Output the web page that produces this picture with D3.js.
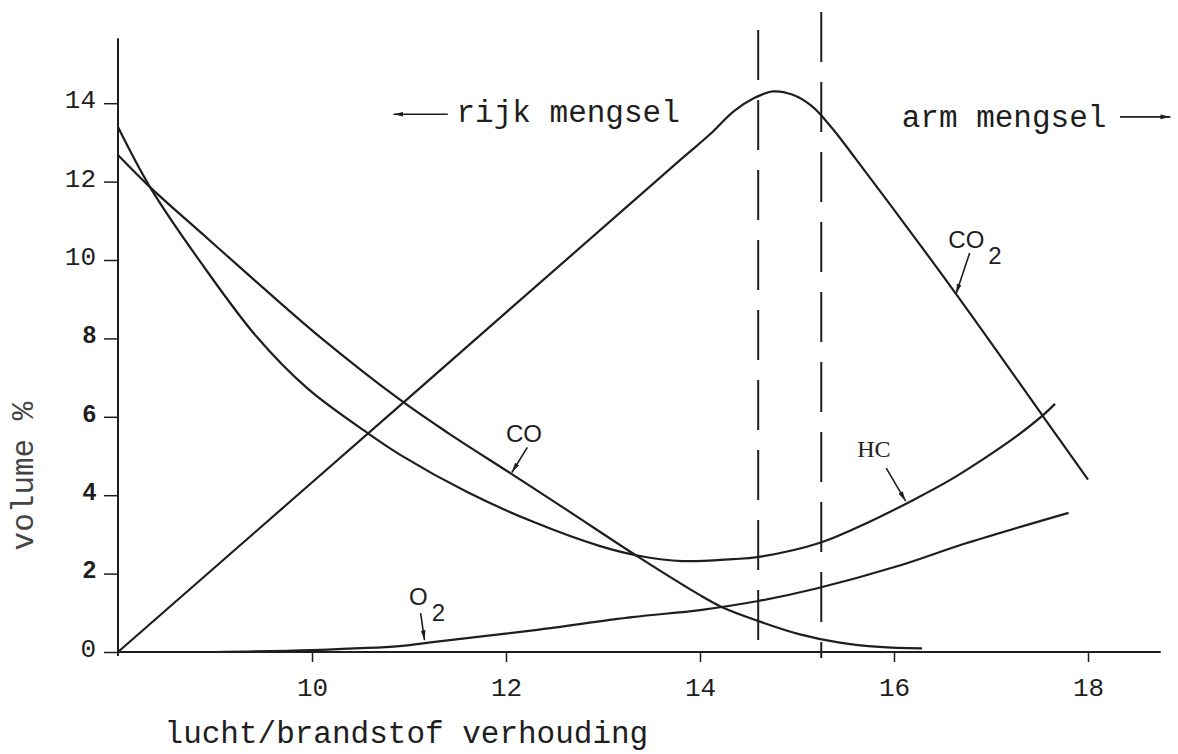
<!DOCTYPE html>
<html lang="nl">
<meta charset="utf-8">
<title>Uitlaatgassen en lucht/brandstof verhouding</title>
<style>
  body { margin: 0; background: #fff; }
  svg { display: block; }
</style>
<body>
<div id="chart"></div>
<script src="https://cdn.jsdelivr.net/npm/d3@7"></script>
<script>
// values (x = lucht/brandstof, y = volume %)
var co2Pts = [[8, 0], [11, 6.49], [13.8, 12.56], [14.1, 13.2], [14.35, 13.8], [14.55, 14.12],
  [14.75, 14.3], [14.95, 14.22], [15.15, 13.93], [15.35, 13.4], [15.6, 12.6], [16.65, 9.1],
  [17.54, 6.0], [18.0, 4.4]];
var coPts = [[8, 12.68], [8.33, 11.86], [8.85, 10.71], [9.36, 9.59], [10.08, 8.04], [10.91, 6.43],
  [11.42, 5.56], [12.04, 4.57], [12.63, 3.62], [13.38, 2.4], [14.0, 1.45], [14.24, 1.13],
  [14.59, 0.8], [15.03, 0.45], [15.44, 0.24], [15.85, 0.13], [16.29, 0.09]];
var hcPts = [[8, 13.39], [8.33, 11.86], [8.85, 9.95], [9.43, 8.04], [9.95, 6.73], [10.57, 5.59],
  [10.91, 5.03], [11.6, 4.08], [12.28, 3.32], [12.97, 2.7], [13.38, 2.45], [13.82, 2.32],
  [14.34, 2.37], [14.59, 2.42], [15.23, 2.78], [15.72, 3.29], [16.2, 3.88], [16.58, 4.39],
  [16.92, 4.92], [17.25, 5.48], [17.54, 6.05], [17.66, 6.33]];
var o2Pts = [[9.0, 0], [10.0, 0.05], [10.9, 0.15], [11.2, 0.24], [12.3, 0.56], [13.3, 0.89],
  [14.0, 1.07], [14.6, 1.3], [15.2, 1.62], [16.05, 2.2], [16.75, 2.78], [17.8, 3.55]];
var stoichLines = [14.6, 15.25];
var xTicks = [10, 12, 14, 16, 18];
var yTicks = [0, 2, 4, 6, 8, 10, 12, 14];

var W = 1178, H = 754;
var mono = "'Liberation Mono', 'Courier New', monospace";
var sans = "'Liberation Sans', Arial, sans-serif";
var serif = "'Liberation Serif', 'Times New Roman', serif";
var ink = "#1e1e1e";

var svg = d3.select("#chart").append("svg").attr("width", W).attr("height", H);
svg.append("rect").attr("width", W).attr("height", H).attr("fill", "#fff");

var x = d3.scaleLinear().domain([8, 18]).range([118, 1088]);
var y = d3.scaleLinear().domain([0, 14]).range([652, 103.2]);

// arrowhead for the little pointers
var defs = svg.append("defs");
defs.append("marker").attr("id", "tip")
  .attr("viewBox", "0 0 10 6").attr("refX", 10).attr("refY", 3)
  .attr("markerWidth", 10).attr("markerHeight", 6).attr("markerUnits", "userSpaceOnUse")
  .attr("orient", "auto")
  .append("path").attr("d", "M0,0.6L10,3L0,5.4Z").attr("fill", ink);

// axis lines (longer than the domain, like the original)
svg.append("line").attr("x1", x(8)).attr("x2", x(8)).attr("y1", y(14) - 65).attr("y2", y(0) + 4)
  .attr("stroke", ink).attr("stroke-width", 2);
svg.append("line").attr("x1", x(8)).attr("x2", x(18.75)).attr("y1", y(0)).attr("y2", y(0))
  .attr("stroke", ink).attr("stroke-width", 2.2);

var yAxis = svg.append("g").attr("transform", "translate(" + x(8) + ",0)")
  .call(d3.axisLeft(y).tickValues(yTicks).tickSize(14).tickPadding(8).tickSizeOuter(0));
yAxis.select(".domain").remove();
yAxis.selectAll("line").attr("stroke", ink).attr("stroke-width", 1.5);
yAxis.selectAll("text")
  .attr("fill", ink).attr("dy", "0.18em")
  .style("font-family", function (d) { return (d >= 10 || d === 0) ? mono : sans; })
  .style("font-weight", function (d) { return (d >= 10 || d === 0) ? "normal" : "bold"; })
  .style("font-size", function (d) { return (d >= 10 || d === 0) ? "26px" : "24px"; });

var xAxis = svg.append("g").attr("transform", "translate(0," + y(0) + ")")
  .call(d3.axisBottom(x).tickValues(xTicks).tickSize(10).tickPadding(16).tickSizeOuter(0));
xAxis.select(".domain").remove();
xAxis.selectAll("line").attr("stroke", ink).attr("stroke-width", 1.5);
xAxis.selectAll("text").attr("fill", ink)
  .style("font-family", mono).style("font-size", "26px");

// stoichiometric band (dashed verticals)
svg.selectAll(".stoich").data(stoichLines).enter().append("line")
  .attr("x1", function (d) { return x(d); }).attr("x2", function (d) { return x(d); })
  .attr("y1", function (d, i) { return i === 0 ? 30 : 12; }).attr("y2", y(0) + 6)
  .attr("stroke", ink).attr("stroke-width", 2).attr("stroke-dasharray", "50,20");

// curves
var smooth = d3.line().x(function (d) { return x(d[0]); }).y(function (d) { return y(d[1]); })
  .curve(d3.curveCatmullRom.alpha(0.5));
[co2Pts, coPts, hcPts, o2Pts].forEach(function (pts) {
  svg.append("path").datum(pts).attr("d", smooth)
    .attr("fill", "none").attr("stroke", ink).attr("stroke-width", 2.2);
});

// curve labels with pointers
function pointer(x1, y1, x2, y2) {
  svg.append("line").attr("x1", x(x1)).attr("y1", y(y1)).attr("x2", x(x2)).attr("y2", y(y2))
    .attr("stroke", ink).attr("stroke-width", 1.6).attr("marker-end", "url(#tip)");
}
function label(txt, sub, lx, ly, font, size) {
  var t = svg.append("text").attr("x", x(lx)).attr("y", y(ly))
    .attr("fill", ink).style("font-family", font).style("font-size", size + "px").text(txt);
  if (sub) t.append("tspan").attr("dx", 4).attr("dy", 16).text(sub);
}
label("CO", null, 12.0, 5.36, sans, 24);
pointer(12.22, 5.22, 12.06, 4.58);
label("HC", null, 15.62, 4.97, serif, 24);
pointer(15.92, 4.69, 16.12, 3.85);
label("CO", "2", 16.56, 10.3, sans, 24);
pointer(16.78, 10.18, 16.64, 9.14);
label("O", "2", 11.0, 1.2, sans, 24);
pointer(11.12, 0.99, 11.16, 0.3);

// region captions
svg.append("text").attr("x", x(11.49)).attr("y", y(13.52))
  .attr("fill", ink).style("font-family", mono).style("font-size", "31px").text("rijk mengsel");
svg.append("line").attr("x1", x(11.4)).attr("x2", x(10.84)).attr("y1", y(13.72)).attr("y2", y(13.72))
  .attr("stroke", ink).attr("stroke-width", 1.6).attr("marker-end", "url(#tip)");
svg.append("text").attr("x", x(16.08)).attr("y", y(13.4))
  .attr("fill", ink).style("font-family", mono).style("font-size", "31px").text("arm mengsel");
svg.append("line").attr("x1", x(18.33)).attr("x2", x(18.85)).attr("y1", y(13.65)).attr("y2", y(13.65))
  .attr("stroke", ink).attr("stroke-width", 1.6).attr("marker-end", "url(#tip)");

// axis titles
svg.append("text").attr("x", x(8.48)).attr("y", 743)
  .attr("fill", ink).style("font-family", mono).style("font-size", "31px")
  .text("lucht/brandstof verhouding");
svg.append("text").attr("transform", "translate(33," + 476 + ") rotate(-90)")
  .attr("text-anchor", "middle")
  .attr("fill", "#444").style("font-family", mono).style("font-size", "31px").text("volume %");
</script>
</body>
</html>
